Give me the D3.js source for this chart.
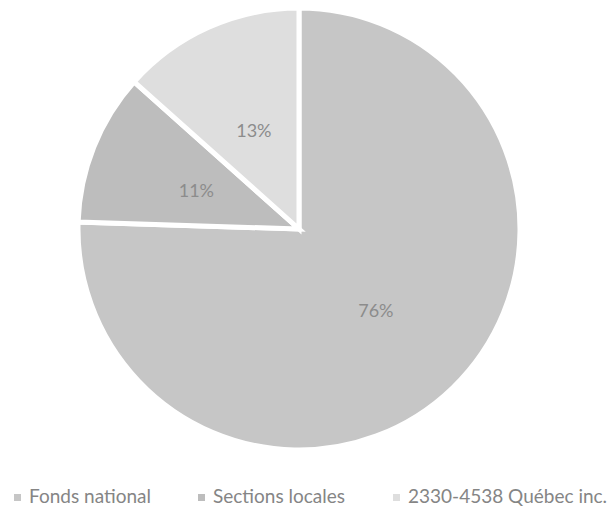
<!DOCTYPE html>
<html lang="fr">
<head>
<meta charset="UTF-8">
<title>Pie</title>
<script src="https://d3js.org/d3.v7.min.js"></script>
<style>
  body { margin: 0; background: #fff; }
  svg { display: block; }
</style>
</head>
<body>
<div id="chart"></div>
<script>
const width = 614;
const height = 513;

// data (labels are rounded, slice sizes follow the drawn angles)
const categories = ["Fonds national", "Sections locales", "2330-4538 Québec inc."];
const shares = [75.5, 11.1, 13.4];
const sliceColors = ["#c6c6c6", "#bdbdbd", "#dedede"];

const cx = 299, cy = 229, radius = 221;

const svg = d3.select("#chart").append("svg")
    .attr("width", width)
    .attr("height", height);

const pie = d3.pie().sort(null).value(d => d.value);
const arcs = pie(categories.map((c, i) => ({ name: c, value: shares[i], color: sliceColors[i] })));

const arc = d3.arc().innerRadius(0).outerRadius(radius);
const labelArc = d3.arc().innerRadius(radius * 0.5).outerRadius(radius * 0.5);

const g = svg.append("g").attr("transform", `translate(${cx},${cy})`);

g.selectAll("path")
    .data(arcs)
    .enter()
    .append("path")
    .attr("d", arc)
    .attr("fill", d => d.data.color)
    .attr("stroke", "#fff")
    .attr("stroke-width", 5)
    .attr("stroke-linejoin", "miter");

g.selectAll("text")
    .data(arcs)
    .enter()
    .append("text")
    .attr("transform", d => `translate(${labelArc.centroid(d)})`)
    .attr("text-anchor", "middle")
    .attr("dy", "0.5em")
    .attr("font-family", "Lato, sans-serif")
    .attr("font-size", 18)
    .attr("fill", "#8c8c8c")
    .text(d => Math.round(d.data.value) + "%");

// legend along the bottom
const legendX = [14, 198, 393];
const legend = svg.append("g").attr("transform", "translate(0,503)");

const items = legend.selectAll("g")
    .data(categories)
    .enter()
    .append("g")
    .attr("transform", (d, i) => `translate(${legendX[i]},0)`);

items.append("rect")
    .attr("x", 0)
    .attr("y", -9)
    .attr("width", 7)
    .attr("height", 7)
    .attr("fill", (d, i) => sliceColors[i]);

items.append("text")
    .attr("x", 15)
    .attr("y", 0)
    .attr("font-family", "Lato, sans-serif")
    .attr("font-size", 19)
    .attr("fill", "#858585")
    .text(d => d);
</script>
</body>
</html>
